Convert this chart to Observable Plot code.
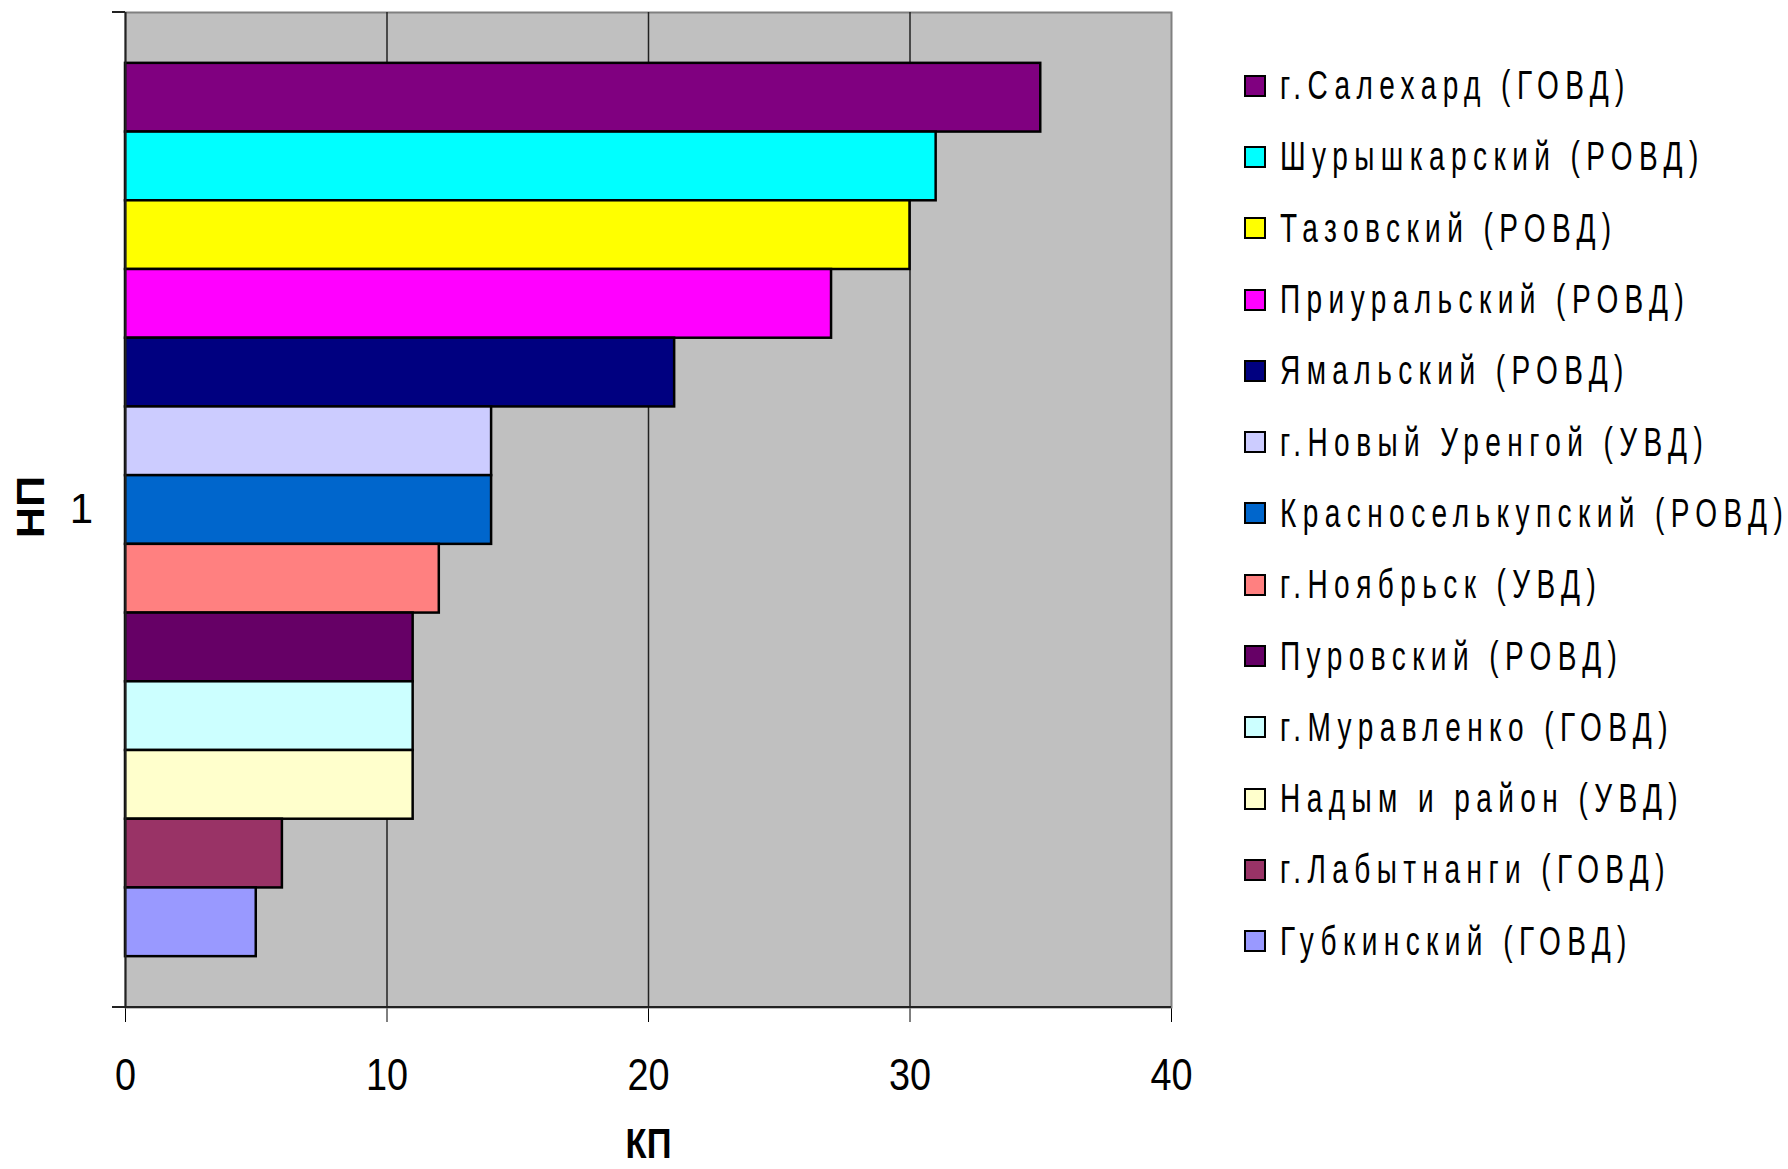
<!DOCTYPE html>
<html>
<head>
<meta charset="utf-8">
<script src="https://cdn.jsdelivr.net/npm/d3@7"></script>
<script src="https://cdn.jsdelivr.net/npm/@observablehq/plot@0.6"></script>
<style>
  html, body { margin: 0; padding: 0; background: #fff; }
  #wrap { position: relative; width: 1788px; height: 1169px; overflow: hidden; }
  #chart { position: absolute; left: 0; top: 0; }
  #legend { position: absolute; left: 1245px; top: 50px; width: 543px; }
  #legend > div { font-family: 'Liberation Sans', Arial, sans-serif !important; font-size: 40px !important; color: #000; margin: 0 !important; columns: auto !important; }
  #legend [class$="-swatch"] { height: 71.3px; display: flex !important; align-items: center; padding: 0 !important; margin: 0 !important; }
  #legend [class$="-swatch"]::before { content: none !important; }
  #legend svg { margin-right: 15px !important; overflow: visible; flex: none; }
  #legend svg rect { stroke: #000; stroke-width: 2px; }
  #legend [class$="-swatch-label"] { overflow: visible !important; letter-spacing: 9.2px; white-space: nowrap; display: inline-block; flex: none; transform: scaleX(0.7); transform-origin: 0 50%; }
</style>
</head>
<body>
<div id="wrap">
  <div id="chart"></div>
  <div id="legend"></div>
</div>
<script>
// Category (Excel category axis) and axis titles
const categories = ["1"];
const yTitle = ["НП"];
const xTitle = ["КП"];

// Series names (legend order, top to bottom)
const names = [
  "г.Салехард (ГОВД)",
  "Шурышкарский (РОВД)",
  "Тазовский (РОВД)",
  "Приуральский (РОВД)",
  "Ямальский (РОВД)",
  "г.Новый Уренгой (УВД)",
  "Красноселькупский (РОВД)",
  "г.Ноябрьск (УВД)",
  "Пуровский (РОВД)",
  "г.Муравленко (ГОВД)",
  "Надым и район (УВД)",
  "г.Лабытнанги (ГОВД)",
  "Губкинский (ГОВД)"
];

// Series values
const values = [35, 31, 30, 27, 21, 14, 14, 12, 11, 11, 11, 6, 5];

// Series colours
const colors = [
  "#800080", "#00FFFF", "#FFFF00", "#FF00FF", "#000080", "#CCCCFF",
  "#0066CC", "#FF8080", "#660066", "#CCFFFF", "#FFFFCC", "#993366", "#9999FF"
];

// Axis ticks
const xTicks = [0, 10, 20, 30, 40];
const gridTicks = [10, 20, 30];

const data = names.map((name, i) => ({name, value: values[i], category: categories[0]}));

// Edge lines: bottom axis line and small category-boundary ticks on the left axis
function edgeLines(...args) {
  const dims = args.find(a => a && typeof a === "object" && a.marginLeft !== undefined && a.width !== undefined);
  const g = d3.create("svg:g").attr("stroke", "#222").attr("stroke-width", 2);
  const left = dims.marginLeft, right = dims.width - dims.marginRight;
  const top = dims.marginTop, bottom = dims.height - dims.marginBottom;
  g.append("line").attr("x1", left - 13).attr("x2", right).attr("y1", bottom).attr("y2", bottom);
  g.append("line").attr("x1", left - 13).attr("x2", left).attr("y1", top).attr("y2", top);
  return g.node();
}

const chart = Plot.plot({
  width: 1190,
  height: 1169,
  marginLeft: 125,
  marginRight: 19,
  marginTop: 12,
  marginBottom: 162,
  style: {
    background: "white",
    fontFamily: "'Liberation Sans', Arial, sans-serif",
    fontSize: "44px",
    color: "#000",
    overflow: "visible"
  },
  x: {
    domain: [0, 40],
    ticks: xTicks,
    tickSize: 15,
    tickPadding: 36,
    tickFormat: d => String(d),
    label: null
  },
  y: {
    domain: names,
    paddingInner: 0,
    paddingOuter: 0.74,
    round: false,
    axis: null,
    label: null
  },
  color: { domain: names, range: colors },
  marks: [
    Plot.frame({fill: "#C0C0C0", stroke: "#808080", strokeWidth: 2}),
    Plot.ruleX(gridTicks, {stroke: "#222", strokeWidth: 1.5}),
    Plot.barX(data, {x: "value", y: "name", fill: "name", stroke: "#000", strokeWidth: 2.5}),
    Plot.ruleX([0], {stroke: "#222", strokeWidth: 2}),
    edgeLines,
    Plot.text(categories, {frameAnchor: "left", dx: -44, text: d => d, textAnchor: "middle", lineAnchor: "middle", fontSize: 42, fill: "#000"}),
    Plot.text(yTitle, {frameAnchor: "left", dx: -93.5, dy: -3, text: d => d, rotate: -90, textAnchor: "middle", lineAnchor: "middle", fontSize: 38, fontWeight: "bold", fill: "#000"}),
    Plot.text(xTitle, {frameAnchor: "bottom", dy: 137, text: d => d, textAnchor: "middle", lineAnchor: "middle", fontSize: 42, fontWeight: "bold", fill: "#000"})
  ]
});

// The reference's lettering is horizontally condensed; squeeze glyphs along the text direction
const squeeze = new Map([[xTitle[0], "scale(0.82,1)"], [yTitle[0], "scale(1.14,1)"]]);
xTicks.forEach(t => squeeze.set(String(t), "scale(0.86,1)"));
d3.select(chart).selectAll("text").each(function() {
  const s = squeeze.get(this.textContent);
  if (s) {
    const t = this.getAttribute("transform");
    this.setAttribute("transform", (t ? t + " " : "") + s);
  }
});
document.getElementById("chart").appendChild(chart);

const legend = Plot.legend({
  color: { domain: names, range: colors, type: "ordinal" },
  legend: "swatches",
  columns: 1,
  swatchSize: 20,
  className: "lg"
});
document.getElementById("legend").appendChild(legend);
</script>
</body>
</html>
